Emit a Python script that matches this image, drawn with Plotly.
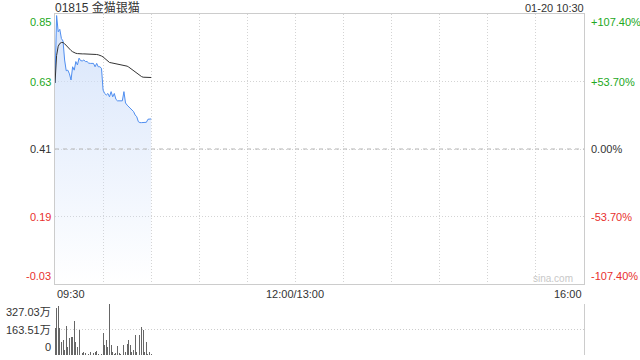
import plotly.graph_objects as go

# ---------------- data ----------------
minutes = list(range(61))  # minutes since 09:30 (10:30 = 60)

price = [0.625, 0.845, 0.792, 0.800, 0.770, 0.762, 0.700, 0.665, 0.667, 0.655,
         0.635, 0.678, 0.667, 0.695, 0.684, 0.706, 0.698, 0.697, 0.700, 0.695,
         0.695, 0.690, 0.689, 0.689, 0.689, 0.678, 0.689, 0.678, 0.678, 0.673,
         0.602, 0.591, 0.586, 0.591, 0.580, 0.597, 0.580, 0.591, 0.572, 0.567,
         0.567, 0.567, 0.567, 0.597, 0.560, 0.553, 0.548, 0.543, 0.535, 0.532,
         0.521, 0.515, 0.499, 0.496, 0.496, 0.497, 0.497, 0.497, 0.507, 0.507,
         0.508]

avg_price = [0.625, 0.715, 0.745, 0.754, 0.757, 0.757, 0.753, 0.747, 0.741, 0.736,
             0.731, 0.727, 0.724, 0.722, 0.721, 0.720, 0.720, 0.720, 0.720, 0.720,
             0.720, 0.720, 0.719, 0.719, 0.719, 0.719, 0.718, 0.717, 0.716, 0.713,
             0.710, 0.706, 0.700, 0.695, 0.692, 0.691, 0.690, 0.689, 0.688, 0.688,
             0.687, 0.686, 0.685, 0.683, 0.682, 0.680, 0.677, 0.673, 0.669, 0.665,
             0.661, 0.657, 0.652, 0.648, 0.646, 0.644, 0.644, 0.643, 0.643, 0.643,
             0.643]

volume = [171, 299, 314, 171, 83, 97, 29, 187, 50, 108,
          118, 118, 215, 83, 50, 160, 0, 11, 18, 11,
          0, 7, 22, 0, 11, 18, 24, 7, 0, 7,
          138, 61, 97, 50, 327, 66, 18, 5, 11, 56,
          11, 7, 0, 66, 18, 70, 97, 61, 18, 33,
          127, 22, 0, 127, 178, 160, 18, 83, 7, 22,
          7]  # 万

price_ticks = [-0.03, 0.19, 0.41, 0.63, 0.85]
price_tick_labels = ["-0.03", "0.19", "0.41", "0.63", "0.85"]
pct_tick_labels = ["-107.40%", "-53.70%", "0.00%", "+53.70%", "+107.40%"]
vol_ticks = [0, 163.51, 327.03]
vol_tick_labels = ["0", "163.51万", "327.03万"]
time_ticks = [0, 150, 330]
time_tick_labels = ["09:30", "12:00/13:00", "16:00"]
grid_ticks = list(range(30, 330, 30))
title_text = "01815 金猫银猫"
stamp_text = "01-20 10:30"

# ---------------- figure ----------------
FONT = "Arial, Liberation Sans, Noto Sans CJK SC, sans-serif"
GREEN = "#22a822"
RED = "#e8302e"
DARK = "#333333"
y_min, y_max = price_ticks[0], price_ticks[-1]

W, H = 640, 360
ML, MR, MT, MB = 55, 56, 14, 5
PW = W - ML - MR
PH = H - MT - MB


def py(px):  # pixel y -> paper
    return (H - MB - px) / PH


def pxx(px):  # pixel x -> paper
    return (px - ML) / PW


fig = go.Figure()

fig.add_trace(go.Scatter(x=minutes, y=[y_min] * len(minutes), mode="lines",
                         line=dict(width=0), hoverinfo="skip", showlegend=False,
                         xaxis="x", yaxis="y"))
fig.add_trace(go.Scatter(x=minutes, y=price, mode="lines",
                         line=dict(color="#4f8ef0", width=1),
                         fill="tonexty",
                         fillgradient=dict(type="vertical",
                                           colorscale=[[0, "rgba(205,222,250,0.0)"],
                                                       [1, "rgba(205,222,250,0.8)"]],
                                           start=y_min, stop=y_max),
                         hoverinfo="skip", showlegend=False, xaxis="x", yaxis="y"))
fig.add_trace(go.Scatter(x=minutes, y=avg_price, mode="lines",
                         line=dict(color="#333333", width=1),
                         hoverinfo="skip", showlegend=False, xaxis="x", yaxis="y"))
fig.add_trace(go.Bar(x=minutes, y=volume, width=0.62, marker=dict(color="#666666", line=dict(width=0)),
                     hoverinfo="skip", showlegend=False, xaxis="x2", yaxis="y2"))

GRID = "#d4d4d4"
fig.update_layout(
    width=W, height=H,
    margin=dict(l=ML, r=MR, t=MT, b=MB),
    paper_bgcolor="white", plot_bgcolor="white",
    font=dict(family=FONT, size=11, color=DARK),
    showlegend=False, bargap=0,
    xaxis=dict(domain=[0, 1], range=[0, 330], tickvals=grid_ticks, showticklabels=False,
               showgrid=True, gridcolor=GRID, griddash="1px,2px", gridwidth=1,
               showline=True, mirror=True, linecolor="#cccccc", linewidth=1,
               zeroline=False, ticks="", anchor="y", fixedrange=True),
    yaxis=dict(domain=[py(284), 1], range=[y_min, y_max], tickvals=price_ticks,
               showticklabels=False, showgrid=True, gridcolor=GRID, griddash="1px,2px",
               showline=True, mirror=True, linecolor="#cccccc", linewidth=1,
               zeroline=False, ticks="", anchor="x", fixedrange=True),
    xaxis2=dict(domain=[0, 1], range=[0, 330], showticklabels=False, showgrid=False,
                showline=False, zeroline=False, ticks="", anchor="y2", fixedrange=True),
    yaxis2=dict(domain=[0, py(304)], range=[0, vol_ticks[-1]], tickvals=vol_ticks,
                showticklabels=False, showgrid=True, gridcolor="#cccccc", griddash="1px,2px",
                side="right", showline=True, linecolor="#cccccc", linewidth=1,
                zeroline=False, ticks="", anchor="x2", fixedrange=True),
)

# mid (previous close) dashed line
fig.add_shape(type="line", xref="x", yref="y", x0=0, x1=330, y0=price_ticks[2], y1=price_ticks[2],
              line=dict(color="#b5b5b5", width=1, dash="4px,4px"), layer="above")

ann = []
colors = [RED, RED, DARK, GREEN, GREEN]
anchors = ["bottom", "middle", "middle", "middle", "top"]
for v, lab, pct, c, a in zip(price_ticks, price_tick_labels, pct_tick_labels, colors, anchors):
    ann.append(dict(xref="paper", yref="y", x=pxx(53), y=v, text=lab, showarrow=False,
                    xanchor="right", yanchor=a, font=dict(color=c, size=11)))
    ann.append(dict(xref="paper", yref="y", x=pxx(588.5), y=v, text=pct, showarrow=False,
                    xanchor="left", yanchor=a, font=dict(color=c, size=11)))

for v, lab, a in zip(vol_ticks, vol_tick_labels, ["bottom", "middle", "top"]):
    ann.append(dict(xref="paper", yref="y2", x=pxx(53), y=v, text=lab, showarrow=False,
                    xanchor="right", yanchor=a, font=dict(color=DARK, size=11)))

for v, lab, xa in zip(time_ticks, time_tick_labels, ["left", "center", "right"]):
    ann.append(dict(xref="x", yref="paper", x=v, y=py(293.5), text=lab, showarrow=False,
                    xanchor=xa, yanchor="middle", font=dict(color=DARK, size=11)))

ann.append(dict(xref="paper", yref="paper", x=pxx(53), y=py(7.5), text=title_text,
                showarrow=False, xanchor="left", yanchor="middle",
                font=dict(color=DARK, size=12)))
ann.append(dict(xref="paper", yref="paper", x=1 + 2 / PW, y=py(7.5), text=stamp_text,
                showarrow=False, xanchor="right", yanchor="middle",
                font=dict(color=DARK, size=11)))
ann.append(dict(xref="paper", yref="paper", x=pxx(553), y=py(278), text="sina.com",
                showarrow=False, xanchor="center", yanchor="middle",
                font=dict(color="#c8c8c8", size=10)))

fig.update_layout(annotations=ann)

fig.write_html("out.html", config={"displayModeBar": False, "staticPlot": True})
